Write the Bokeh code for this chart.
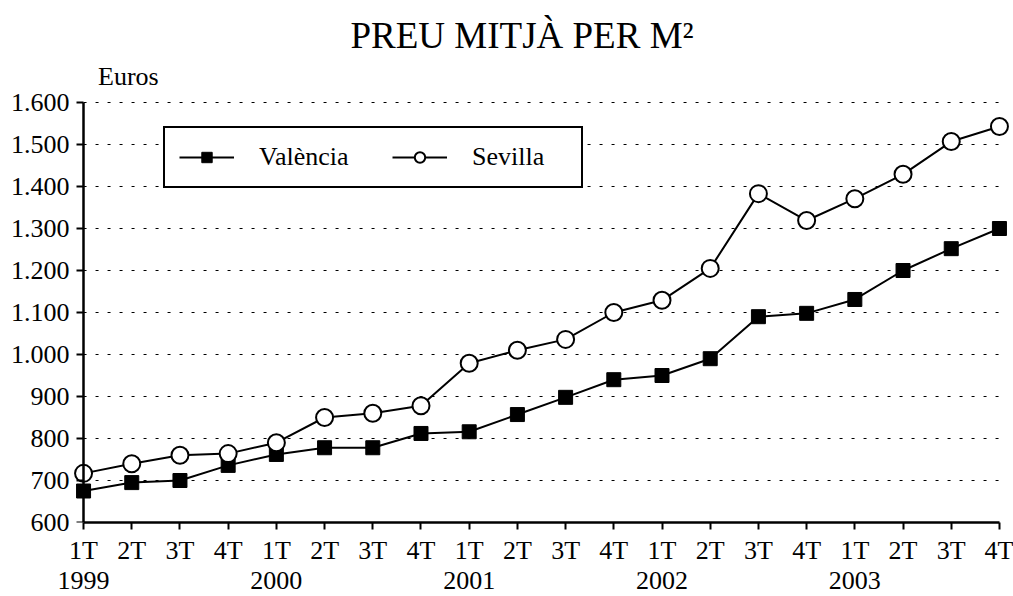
from bokeh.plotting import figure
from bokeh.models import Range1d, LinearAxis, FixedTicker, Legend, LegendItem, Label
from bokeh.embed import file_html
from bokeh.resources import INLINE

quarters = ["1T", "2T", "3T", "4T"] * 5
years = ["1999", "2000", "2001", "2002", "2003"]
valencia = [675, 695, 700, 736, 762, 778, 778, 812, 816, 857,
            898, 940, 950, 990, 1090, 1098, 1131, 1200, 1252, 1300]
sevilla = [717, 740, 760, 764, 790, 850, 860, 878, 979, 1010,
           1036, 1100, 1129, 1205, 1383, 1319, 1371, 1429, 1507, 1543]
y_ticks = list(range(600, 1601, 100))
title_text = "PREU MITJÀ PER M²"
unit_text = "Euros"

FONT = "Liberation Serif"
x = list(range(len(quarters)))
n = len(quarters)

p = figure(width=1013, height=596, output_backend="svg", toolbar_location=None,
           x_range=Range1d(-0.25, n - 1 + 0.25), y_range=Range1d(600, 1700),
           min_border_left=71, min_border_right=2, min_border_top=60, min_border_bottom=74,
           x_axis_type=None, y_axis_type=None)
p.outline_line_color = None
p.background_fill_color = "white"
p.grid.visible = False

# title
p.title.text = title_text
p.title.text_font = FONT
p.title.text_font_size = "37px"
p.title.text_font_style = "normal"
p.title.align = "left"
p.title.offset = 279
p.title.text_color = "black"

# dotted horizontal gridlines
p.segment(x0=[0] * len(y_ticks[1:]), x1=[n - 1] * len(y_ticks[1:]),
          y0=y_ticks[1:], y1=y_ticks[1:], line_color="black",
          line_width=1, line_dash="3 9")

# y axis labels (left panel)
ylab = LinearAxis(ticker=FixedTicker(ticks=y_ticks))
ylab.major_label_overrides = {t: f"{t:,}".replace(",", ".") for t in y_ticks}
ylab.major_label_text_font = FONT
ylab.major_label_text_font_size = "26px"
ylab.major_label_text_color = "black"
ylab.axis_line_color = None
ylab.major_tick_line_color = None
ylab.minor_tick_line_color = None
ylab.major_tick_out = 0
ylab.major_tick_in = 0
ylab.major_label_standoff = 2
p.add_layout(ylab, "left")

# y axis line and ticks (drawn at the first quarter)
yax = LinearAxis(ticker=FixedTicker(ticks=y_ticks), bounds=(600, 1600))
yax.fixed_location = 0
yax.major_label_text_color = None
yax.axis_line_width = 2.5
yax.axis_line_color = "black"
yax.major_tick_line_width = 2
yax.major_tick_line_color = "black"
yax.major_tick_out = 7
yax.major_tick_in = 0
yax.minor_tick_line_color = None
p.add_layout(yax, "left")

# quarter axis
qax = LinearAxis(ticker=FixedTicker(ticks=x), bounds=(0, n - 1))
qax.major_label_overrides = {i: q for i, q in enumerate(quarters)}
qax.major_label_text_font = FONT
qax.major_label_text_font_size = "26px"
qax.major_label_text_color = "black"
qax.axis_line_width = 2.5
qax.axis_line_color = "black"
qax.major_tick_line_width = 2
qax.major_tick_line_color = "black"
qax.major_tick_out = 7
qax.major_tick_in = 0
qax.minor_tick_line_color = None
qax.major_label_standoff = 6
p.add_layout(qax, "below")

# year axis
year_pos = [i for i in x if i % 4 == 0]
yrax = LinearAxis(ticker=FixedTicker(ticks=year_pos))
yrax.major_label_overrides = {pos: yr for pos, yr in zip(year_pos, years)}
yrax.major_label_text_font = FONT
yrax.major_label_text_font_size = "26px"
yrax.major_label_text_color = "black"
yrax.axis_line_color = None
yrax.major_tick_line_color = None
yrax.minor_tick_line_color = None
yrax.major_tick_out = 0
yrax.major_tick_in = 0
yrax.major_label_standoff = 4
p.add_layout(yrax, "below")

# series
lv = p.line(x, valencia, line_color="black", line_width=2)
ls = p.line(x, sevilla, line_color="black", line_width=2)
mv = p.scatter(x, valencia, marker="square", size=14, fill_color="black", line_color="black")
ms = p.scatter(x, sevilla, marker="circle", size=17, fill_color="white",
               line_color="black", line_width=2)

# unit label
p.add_layout(Label(x=0.3, y=1662, text=unit_text, text_font=FONT, text_font_size="26px",
                   text_baseline="middle", text_align="left", text_color="black"))

legend = Legend(items=[LegendItem(label="València", renderers=[lv, mv]),
                       LegendItem(label="Sevilla", renderers=[ls, ms])],
                orientation="horizontal", location=(92, 334))
legend.label_text_font = FONT
legend.label_text_font_size = "26px"
legend.label_text_color = "black"
legend.label_width = 95
legend.border_line_color = "black"
legend.border_line_alpha = 1
legend.border_line_width = 2
legend.background_fill_alpha = 1
legend.padding = 14
legend.glyph_width = 55
legend.glyph_height = 26
legend.label_standoff = 25
legend.spacing = 38
legend.margin = 0
p.add_layout(legend, "center")

open("out.html", "w").write(file_html(p, INLINE))
